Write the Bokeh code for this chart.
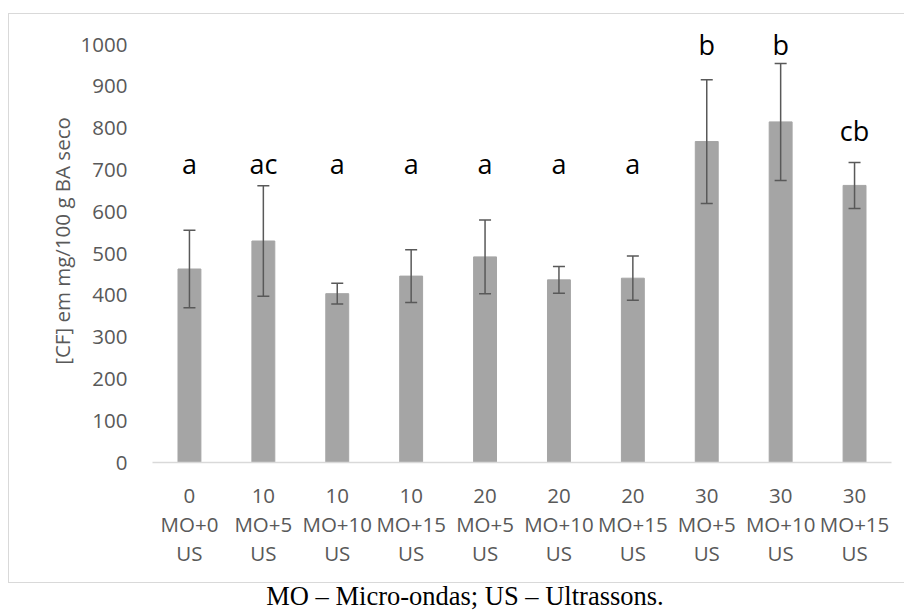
from bokeh.plotting import figure
from bokeh.models import ColumnDataSource, Whisker, TeeHead, FixedTicker, FactorRange, Range1d, Div
from bokeh.layouts import column
from bokeh.core.properties import value
from bokeh.embed import file_html
from bokeh.resources import INLINE

# Data
categories = ["0\nMO+0\nUS", "10\nMO+5\nUS", "10\nMO+10\nUS", "10\nMO+15\nUS",
              "20\nMO+5\nUS", "20\nMO+10\nUS", "20\nMO+15\nUS",
              "30\nMO+5\nUS", "30\nMO+10\nUS", "30\nMO+15\nUS"]
means = [463, 530, 404, 446, 492, 437, 441, 768, 815, 663]
sds = [93, 132, 25, 63, 88, 32, 53, 148, 140, 55]
letters = ["a", "ac", "a", "a", "a", "a", "a", "b", "b", "cb"]
letter_y = [715, 715, 715, 715, 715, 715, 715, 1000, 1000, 794]
y_ticks = [0, 100, 200, 300, 400, 500, 600, 700, 800, 900, 1000]
caption = "MO – Micro-ondas; US – Ultrassons."

src = ColumnDataSource(dict(
    x=categories, top=means,
    upper=[m + s for m, s in zip(means, sds)],
    lower=[m - s for m, s in zip(means, sds)],
    lab=letters, ly=letter_y,
))

GRAY = "#595959"
FONT = "Open Sans"

p = figure(width=895, height=568, x_range=FactorRange(*categories), y_range=Range1d(0, 1060),
           output_backend="svg", toolbar_location=None,
           min_border_left=143, min_border_right=13, min_border_top=5, min_border_bottom=120)
p.outline_line_color = None
p.xgrid.grid_line_color = None
p.ygrid.grid_line_color = None
p.background_fill_color = "white"
p.border_fill_color = "white"
p.margin = (14, 0, 0, 9)
p.styles = {"outline": "1.5px solid #d9d9d9"}

p.vbar(x="x", top="top", width=0.31, source=src, fill_color="#a5a5a5", line_color="#a5a5a5")

w = Whisker(source=src, base="x", upper="upper", lower="lower",
            line_color=GRAY, line_width=1.5, level="overlay",
            upper_head=TeeHead(size=12, line_color=GRAY, line_width=1.5),
            lower_head=TeeHead(size=12, line_color=GRAY, line_width=1.5))
p.add_layout(w)

p.text(x="x", y="ly", text="lab", source=src, text_align="center", text_baseline="middle",
       text_font=value(FONT), text_font_size="27px", text_color="black")

# Y axis
ya = p.yaxis[0]
ya.ticker = FixedTicker(ticks=y_ticks)
ya.axis_line_color = None
ya.major_tick_line_color = None
ya.minor_tick_line_color = None
ya.major_label_text_color = GRAY
ya.major_label_text_font = FONT
ya.major_label_text_font_size = "20.5px"
ya.major_label_standoff = 19
ya.axis_label = "[CF] em mg/100 g BA seco"
ya.axis_label_text_font = FONT
ya.axis_label_text_font_size = "20.5px"
ya.axis_label_text_font_style = "normal"
ya.axis_label_text_color = GRAY
ya.axis_label_standoff = 2

# X axis
xa = p.xaxis[0]
xa.axis_line_color = "#d9d9d9"
xa.axis_line_width = 1.5
xa.major_tick_line_color = None
xa.minor_tick_line_color = None
xa.major_label_text_color = GRAY
xa.major_label_text_font = FONT
xa.major_label_text_font_size = "20.5px"
xa.major_label_text_line_height = 1.05
xa.major_label_standoff = 12
xa.major_label_orientation = "horizontal"

cap = Div(text=caption, width=904, height=28, margin=(0, 0, 0, 0),
          styles={"font-family": "'Liberation Serif', serif", "font-size": "26.5px",
                  "line-height": "28px", "text-align": "center", "color": "black",
                  "padding-left": "26px", "box-sizing": "border-box", "width": "904px"})

layout = column(p, cap, margin=(0, 0, 0, 0))

open("out.html", "w").write(file_html(layout, INLINE))
